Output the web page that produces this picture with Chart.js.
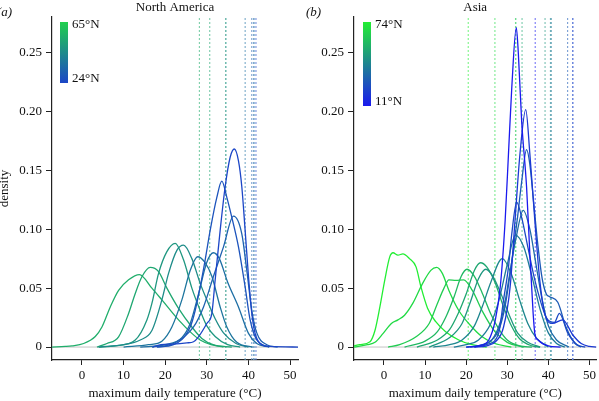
<!DOCTYPE html>
<html>
<head>
<meta charset="utf-8">
<script src="https://cdn.jsdelivr.net/npm/chart.js@4.4.1/dist/chart.umd.min.js"></script>
<style>
  html, body { margin: 0; padding: 0; background: #fff; }
  #wrap { position: relative; width: 599px; height: 401px; overflow: hidden; }
  canvas { position: absolute; top: 0; }
  #left { left: 0; }
  #right { left: 300px; }
</style>
</head>
<body>
<div id="wrap">
  <canvas id="left" width="300" height="401"></canvas>
  <canvas id="right" width="299" height="401"></canvas>
</div>
<script>
// tick values and labels, shared by both panels
const xTicks = [0, 10, 20, 30, 40, 50]
const yTicks = [0, 0.05, 0.10, 0.15, 0.20, 0.25]
const yTickLabels = ['0', '0.05', '0.10', '0.15', '0.20', '0.25']

// North America: density curves, [temperature, density]
const na1 = [[-7.2,0],[-4,0.0005],[-2.4,0.001],[0.4,0.003],[3.2,0.009],[4.8,0.017],[6.8,0.034],[8.8,0.048],[11.2,0.057],[13.8,0.0615],[16.8,0.05],[19.2,0.04],[23.2,0.023],[26.4,0.0116],[28.4,0.006],[31,0.002],[34,0]]
const na2 = [[3.6,0],[6,0.003],[8.8,0.0087],[11.2,0.0285],[12.8,0.0455],[14.4,0.0596],[16.4,0.0675],[18.4,0.064],[20.4,0.05],[23.2,0.0328],[26.4,0.017],[28.8,0.0073],[31.5,0.002],[36,0]]
const na3 = [[4,0],[8,0.001],[12.8,0.006],[15.6,0.023],[16.8,0.037],[18.4,0.0625],[20.4,0.081],[22.4,0.088],[24.4,0.074],[26.4,0.05],[28.4,0.031],[30,0.018],[32,0.009],[35,0.002],[38,0]]
const na4 = [[4,0],[10,0.002],[14,0.006],[16.8,0.014],[19.2,0.04],[20.8,0.0625],[22.8,0.082],[24.4,0.0864],[26.4,0.075],[28.4,0.054],[30,0.04],[32,0.024],[34,0.012],[37,0.003],[40,0]]
const na5 = [[10,0],[16,0.002],[19.2,0.005],[21.6,0.017],[24,0.04],[26,0.065],[27.8,0.0766],[29.5,0.072],[31.2,0.06],[33.2,0.034],[34.8,0.017],[37.2,0.004],[41,0]]
const na6 = [[14,0],[20,0.002],[24,0.008],[26,0.02],[28,0.045],[30,0.072],[31.6,0.08],[33,0.075],[35,0.055],[37.6,0.034],[40,0.0116],[42,0.003],[45,0]]
const na7 = [[16.8,0],[22,0.003],[26.8,0.017],[29.2,0.034],[31.6,0.06],[34,0.085],[36.4,0.111],[38.4,0.096],[39.6,0.065],[40.8,0.031],[42,0.012],[44.4,0.002],[47,0]]
const na8 = [[18,0],[22,0.002],[26,0.017],[27.2,0.031],[28.4,0.051],[29.6,0.074],[30.8,0.099],[32.4,0.127],[33.6,0.1407],[34.8,0.127],[36,0.11],[37.6,0.085],[39.2,0.051],[40.4,0.023],[42,0.006],[45,0]]
const na9 = [[17,0],[19,0.002],[22,0.0025],[25.2,0.0035],[26.8,0.0045],[28,0.0087],[30,0.02],[31.2,0.0286],[32,0.057],[33.2,0.099],[34.4,0.136],[35.6,0.161],[36.6,0.168],[37.6,0.158],[38.4,0.136],[39.2,0.099],[40,0.06],[40.8,0.0286],[41.6,0.0116],[42.8,0.003],[45,0.0005],[52,0]]
const naCurves = [na1, na2, na3, na4, na5, na6, na7, na8, na9]
const naLats = [55, 53, 48, 45, 38, 36, 32, 28, 24]
const naLines = [28.2, 30.7, 34.5, 34.6, 41.3, 39.2, 40.8, 41.3, 41.8]
const naLineLats = [55, 53, 48, 45, 38, 36, 32, 28, 24]

// Asia
const as1 = [[-7.3,0.001],[-5.9,0.002],[-3.4,0.0045],[-2.2,0.014],[-1,0.034],[0.2,0.057],[1.4,0.0765],[2.2,0.08],[3.4,0.078],[4.6,0.079],[6.2,0.075],[7.8,0.068],[9,0.051],[10.6,0.033],[12.6,0.0215],[15,0.013],[18.2,0.006],[21.4,0.002],[25,0]]
const as2 = [[-7.3,0],[-4,0.002],[-2.2,0.004],[-0.2,0.0116],[1.8,0.02],[3.4,0.023],[5,0.027],[7,0.037],[9.4,0.054],[11.4,0.065],[12.8,0.0675],[14.2,0.0625],[15.8,0.048],[18.2,0.031],[21.4,0.017],[23.8,0.009],[27,0.003],[31,0]]
const as3 = [[1,0],[3.8,0.002],[7.8,0.0087],[11,0.02],[13,0.037],[14.6,0.05],[15.8,0.057],[17.5,0.0565],[19.4,0.057],[21.5,0.048],[24,0.03],[27,0.013],[30,0.004],[34,0]]
const as4 = [[5,0],[10,0.005],[13,0.013],[15,0.025],[17,0.042],[18.8,0.06],[20.2,0.066],[22,0.06],[24,0.045],[26,0.028],[28,0.015],[30,0.006],[33,0.001],[36,0]]
const as5 = [[8,0],[13,0.006],[16,0.015],[18,0.028],[20,0.045],[22,0.065],[23.5,0.0715],[25,0.068],[27,0.055],[29,0.035],[31,0.018],[33,0.007],[36,0.001],[38,0]]
const as6 = [[11,0],[16,0.008],[19,0.02],[21,0.038],[23,0.058],[24.8,0.066],[26.5,0.06],[28.5,0.045],[30.5,0.027],[32.5,0.012],[35,0.004],[38,0]]
const as7 = [[12,0],[16,0.002],[19,0.006],[22,0.018],[24,0.035],[26,0.055],[28.8,0.075],[31,0.062],[33,0.04],[35,0.02],[37,0.008],[40,0]]
const as8 = [[17,0],[20,0.002],[23,0.006],[26,0.02],[28,0.04],[30,0.07],[32,0.095],[34,0.085],[36,0.06],[38,0.032],[40,0.012],[42,0.003],[44,0]]
const as9 = [[20,0],[24,0.002],[27,0.01],[29,0.03],[30.5,0.06],[32,0.09],[33.9,0.116],[35.5,0.1],[37,0.07],[38.5,0.04],[40,0.018],[42,0.006],[45,0]]
const as10 = [[21,0],[23,0.001],[26,0.005],[28,0.015],[29.5,0.035],[31,0.07],[32.5,0.11],[33.5,0.14],[34.7,0.1675],[35.5,0.155],[36.5,0.12],[37.5,0.085],[38.5,0.058],[39.5,0.045],[40.3,0.0427],[42.3,0.038],[44.3,0.017],[46.5,0.003],[48,0]]
const as11 = [[22,0],[25,0.002],[27.9,0.0116],[29.1,0.04],[30.3,0.068],[31.1,0.096],[32.3,0.123],[33.5,0.11],[35,0.085],[36.5,0.06],[38,0.04],[39.5,0.025],[41.5,0.021],[42.7,0.0286],[44.7,0.012],[47,0.002],[49,0]]
const as12 = [[22,0],[25,0.001],[27.3,0.005],[29.1,0.017],[30.7,0.051],[31.9,0.108],[33.1,0.164],[34.5,0.2014],[35.5,0.164],[36.7,0.108],[37.9,0.057],[39.1,0.029],[41,0.02],[43.5,0.023],[46,0.01],[48,0.003],[50,0.0005],[51.7,0]]
const as13 = [[20,0],[23,0.001],[25.5,0.006],[27.1,0.023],[28.3,0.051],[29.5,0.108],[30.3,0.164],[31.1,0.22],[32.2,0.271],[32.7,0.249],[33.5,0.192],[34.7,0.136],[35.5,0.079],[36.3,0.0286],[36.7,0.0116],[37.5,0.006],[40,0.001],[43,0]]
const asCurves = [as1, as2, as3, as4, as5, as6, as7, as8, as9, as10, as11, as12, as13]
const asLats = [74, 68, 64, 58, 53, 48, 43, 40, 35, 30, 25, 20, 11]
const asLines = [20.5, 27, 32, 32.1, 33.6, 39.2, 40.5, 40.7, 40.6, 44.7, 46, 45.9, 36.8]
const asLineLats = [74, 68, 64, 58, 53, 48, 43, 40, 35, 30, 25, 20, 11]

const Y_MIN = -0.011
const Y_MAX = 0.28
const FONT = "'Liberation Serif', 'DejaVu Serif', serif"

// blue (low latitude) to green (high latitude)
function latRgb(lat) {
  const t = Math.max(0, Math.min(1, (lat - 11) / 63))
  return [26 + 8 * t, 26 + 212 * t, 238 - 187 * t].map(Math.round)
}

function latColor(lat) {
  const [r, g, b] = latRgb(lat)
  return `rgb(${r},${g},${b})`
}

// dotted reference lines look paler in the figure
function latColorPale(lat) {
  const [r, g, b] = latRgb(lat).map((c) => Math.round(c + (255 - c) * 0.35))
  return `rgb(${r},${g},${b})`
}

const panelDecor = {
  id: 'panelDecor',
  afterDraw(chart, args, opts) {
    const ctx = chart.ctx
    ctx.save()
    ctx.fillStyle = '#111'
    ctx.textBaseline = 'middle'
    ctx.font = `italic 13px ${FONT}`
    ctx.textAlign = 'left'
    ctx.fillText(opts.tag, opts.tagX, 13)

    const grad = ctx.createLinearGradient(0, opts.barTop, 0, opts.barBottom)
    grad.addColorStop(0, latColor(opts.latTop))
    grad.addColorStop(1, latColor(opts.latBottom))
    ctx.fillStyle = grad
    ctx.fillRect(opts.barX, opts.barTop, 8, opts.barBottom - opts.barTop)

    ctx.fillStyle = '#111'
    ctx.font = `13px ${FONT}`
    ctx.fillText(`${opts.latTop}°N`, opts.barX + 12, opts.barTop + 3)
    ctx.fillText(`${opts.latBottom}°N`, opts.barX + 12, opts.barBottom - 4)
    ctx.restore()
  },
}

function makePanel(canvasId, cfg) {
  const datasets = []

  // bluest curves drawn last so they sit on top
  cfg.curves.forEach((curve, i) => {
    datasets.unshift({
      data: curve.map(([x, y]) => ({ x, y })),
      borderColor: latColor(cfg.lats[i]),
      backgroundColor: latColor(cfg.lats[i]),
      borderWidth: 1.3,
      pointRadius: 0,
      fill: false,
      cubicInterpolationMode: 'monotone',
    })
  })

  cfg.lines.forEach((t, i) => {
    const c = latColorPale(cfg.lineLats[i])
    datasets.push({
      data: [{ x: t, y: Y_MIN }, { x: t, y: Y_MAX }],
      borderColor: c,
      backgroundColor: c,
      borderWidth: 1,
      borderDash: [2, 2],
      pointRadius: 0,
      fill: false,
    })
  })

  datasets.push({
    data: [{ x: cfg.xMin, y: 0 }, { x: cfg.xMax, y: 0 }],
    borderColor: '#c4c4c4',
    backgroundColor: '#c4c4c4',
    borderWidth: 1,
    pointRadius: 0,
    fill: false,
  })

  return new Chart(document.getElementById(canvasId), {
    type: 'line',
    data: { datasets },
    plugins: [panelDecor],
    options: {
      responsive: false,
      animation: false,
      devicePixelRatio: 1,
      layout: { padding: { top: 0, left: 0, bottom: 0, right: cfg.padRight } },
      plugins: {
        legend: { display: false },
        tooltip: { enabled: false },
        title: {
          display: true,
          text: cfg.title,
          fullSize: false,
          color: '#111',
          font: { family: FONT, size: 13, weight: 'normal' },
          padding: { top: 0, bottom: 1.4 },
        },
        panelDecor: cfg.decor,
      },
      scales: {
        x: {
          type: 'linear',
          min: cfg.xMin,
          max: cfg.xMax,
          afterFit: (scale) => { scale.height = 41 },
          afterBuildTicks: (scale) => { scale.ticks = xTicks.map((v) => ({ value: v })) },
          border: { display: true, color: '#222', width: 1.2 },
          grid: { drawOnChartArea: false, drawTicks: true, tickLength: 5, color: '#222' },
          ticks: {
            color: '#111',
            padding: 3,
            maxRotation: 0,
            font: { family: FONT, size: 13 },
            callback: (v) => `${v}`,
          },
          title: {
            display: true,
            text: 'maximum daily temperature (°C)',
            color: '#111',
            font: { family: FONT, size: 13 },
            padding: { top: 1, bottom: 0 },
          },
        },
        y: {
          type: 'linear',
          min: Y_MIN,
          max: Y_MAX,
          afterFit: (scale) => { scale.width = cfg.yWidth },
          afterBuildTicks: (scale) => { scale.ticks = yTicks.map((v) => ({ value: v })) },
          border: { display: true, color: '#222', width: 1.2 },
          grid: { drawOnChartArea: false, drawTicks: true, tickLength: 6, color: '#222' },
          ticks: {
            color: '#111',
            padding: 4,
            font: { family: FONT, size: 13 },
            callback: (v, i) => yTickLabels[i],
          },
          title: {
            display: cfg.yTitle !== '',
            text: cfg.yTitle,
            color: '#111',
            font: { family: FONT, size: 13 },
            padding: { top: -3, bottom: 0 },
          },
        },
      },
    },
  })
}

makePanel('left', {
  title: 'North America',
  curves: naCurves,
  lats: naLats,
  lines: naLines,
  lineLats: naLineLats,
  xMin: -7.2,
  xMax: 51.9,
  yWidth: 52,
  padRight: 2,
  yTitle: 'density',
  decor: { tag: '(a)', tagX: -3, barX: 60, barTop: 22, barBottom: 83, latTop: 65, latBottom: 24 },
})

makePanel('right', {
  title: 'Asia',
  curves: asCurves,
  lats: asLats,
  lines: asLines,
  lineLats: asLineLats,
  xMin: -7.3,
  xMax: 51.7,
  yWidth: 54,
  padRight: 0,
  yTitle: '',
  decor: { tag: '(b)', tagX: 6, barX: 63, barTop: 22, barBottom: 106, latTop: 74, latBottom: 11 },
})
</script>
</body>
</html>
